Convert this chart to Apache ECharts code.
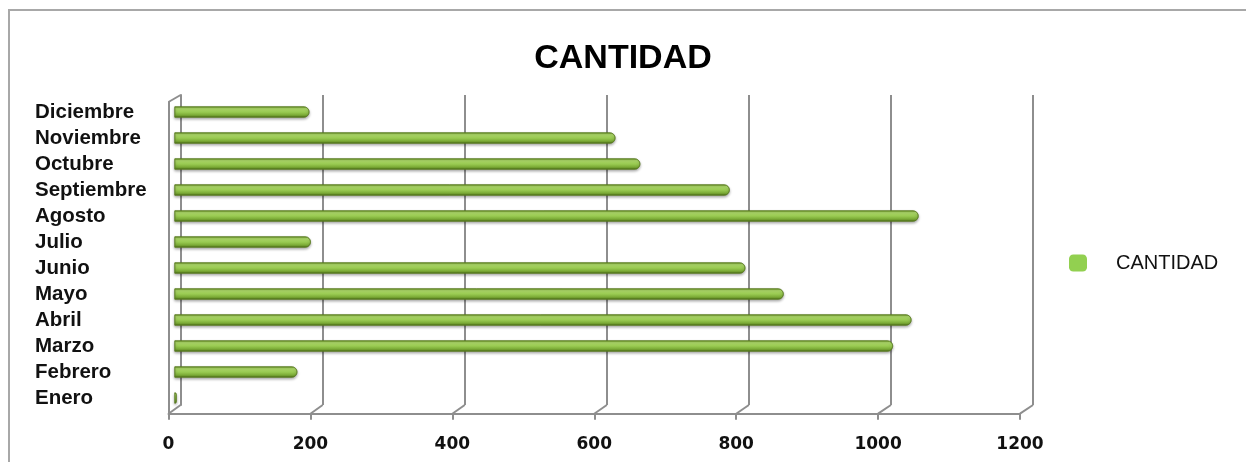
<!DOCTYPE html>
<html>
<head>
<meta charset="utf-8">
<script src="https://cdn.jsdelivr.net/npm/echarts@6/dist/echarts.min.js"></script>
<style>
    html, body { margin: 0; padding: 0; background: #fff; }
    #chart { width: 1246px; height: 462px; }
</style>
</head>
<body>
<div id="chart"></div>
<script>
const months = ['Enero', 'Febrero', 'Marzo', 'Abril', 'Mayo', 'Junio', 'Julio', 'Agosto', 'Septiembre', 'Octubre', 'Noviembre', 'Diciembre'];
const cantidad = [3, 173, 1012, 1038, 858, 804, 192, 1048, 782, 656, 621, 190];
const xTicks = [0, 200, 400, 600, 800, 1000, 1200];
const seriesName = 'CANTIDAD';

const gridColor = '#8e8e8e';

const chart = echarts.init(document.getElementById('chart'));

// 3 grids: back wall (gridlines), middle (bars), front (floor axis)
chart.setOption({
    animation: false,
    title: {
        text: 'CANTIDAD',
        left: 'center',
        top: 37,
        textStyle: { fontFamily: 'Liberation Sans', fontSize: 34, fontWeight: 900, color: '#000' }
    },
    legend: {
        left: 1064,
        top: 248,
        itemWidth: 18,
        itemHeight: 17,
        data: [{ name: seriesName, itemStyle: { color: '#92d050', borderWidth: 0 } }],
        textStyle: { fontFamily: 'Liberation Sans', fontSize: 20, color: '#111', padding: [0, 0, 0, 24] }
    },
    grid: [
        { left: 180.6, right: 213, top: 95, bottom: 57 },
        { left: 174.5, right: 219.5, top: 99, bottom: 51 },
        { left: 168.5, right: 226, top: 102, bottom: 48.3 }
    ],
    xAxis: [
        {
            gridIndex: 0, type: 'value', min: 0, max: xTicks[xTicks.length - 1], interval: 200,
            axisLine: { show: false }, axisTick: { show: false }, axisLabel: { show: false },
            splitLine: { show: true, lineStyle: { color: gridColor, width: 2 } }
        },
        {
            gridIndex: 1, type: 'value', min: 0, max: xTicks[xTicks.length - 1],
            show: false
        },
        {
            gridIndex: 2, type: 'value', min: 0, max: xTicks[xTicks.length - 1], interval: 200,
            axisLine: { show: true, lineStyle: { color: gridColor, width: 2 } },
            axisTick: { show: true, length: 6, lineStyle: { color: gridColor, width: 2 } },
            splitLine: { show: false },
            axisLabel: {
                margin: 22,
                formatter: function (v) { return String(v); },
                fontFamily: 'DejaVu Sans', fontWeight: 'bold', fontSize: 17, color: '#111'
            }
        }
    ],
    yAxis: [
        {
            gridIndex: 0, type: 'category', data: months,
            axisLine: { show: true, lineStyle: { color: gridColor, width: 2 } },
            axisTick: { show: false }, axisLabel: { show: false }, splitLine: { show: false }
        },
        {
            gridIndex: 1, type: 'category', data: months,
            axisLine: { show: false }, axisTick: { show: false },
            axisLabel: {
                interval: 0,
                align: 'left', margin: 139.5,
                padding: [4, 0, 0, 0],
                fontFamily: 'Liberation Sans', fontWeight: 'bold', fontSize: 20.5, color: '#111'
            }
        },
        {
            gridIndex: 2, type: 'value', min: 0, max: 1,
            axisLine: { show: true, lineStyle: { color: gridColor, width: 2 } },
            axisTick: { show: false }, axisLabel: { show: false }, splitLine: { show: false }
        }
    ],
    series: [{
        name: seriesName,
        type: 'bar',
        xAxisIndex: 1,
        yAxisIndex: 1,
        barWidth: 11,
        data: cantidad,
        itemStyle: {
            color: new echarts.graphic.LinearGradient(0, 0, 0, 1, [
                { offset: 0, color: '#6e9a28' },
                { offset: 0.2, color: '#b0dc6c' },
                { offset: 0.5, color: '#9acb52' },
                { offset: 0.8, color: '#78a834' },
                { offset: 1, color: '#4b6a16' }
            ]),
            borderColor: '#5b7c22',
            borderWidth: 0.6,
            borderRadius: [0, 5.5, 5.5, 0],
            shadowColor: 'rgba(0,0,0,0.35)',
            shadowBlur: 3,
            shadowOffsetY: 1.5
        }
    }]
});

// slanted floor/wall joints, positioned from the axis scales
const slants = [];
xTicks.forEach(function (v) {
    const fx = chart.convertToPixel({ xAxisIndex: 2 }, v);
    const bx = chart.convertToPixel({ xAxisIndex: 0 }, v);
    slants.push({
        type: 'line', silent: true,
        shape: { x1: fx, y1: 413.7, x2: bx, y2: 405 },
        style: { stroke: gridColor, lineWidth: 2 }
    });
});
const fx0 = chart.convertToPixel({ xAxisIndex: 2 }, 0);
const bx0 = chart.convertToPixel({ xAxisIndex: 0 }, 0);
slants.push({
    type: 'line', silent: true,
    shape: { x1: fx0, y1: 102, x2: bx0, y2: 95 },
    style: { stroke: gridColor, lineWidth: 2 }
});
slants.push({
    type: 'rect', silent: true, z: -1,
    shape: { x: 9, y: 10, width: 1250, height: 470 },
    style: { fill: 'none', stroke: '#a8a8a8', lineWidth: 2 }
});
chart.setOption({ graphic: slants });
</script>
</body>
</html>
